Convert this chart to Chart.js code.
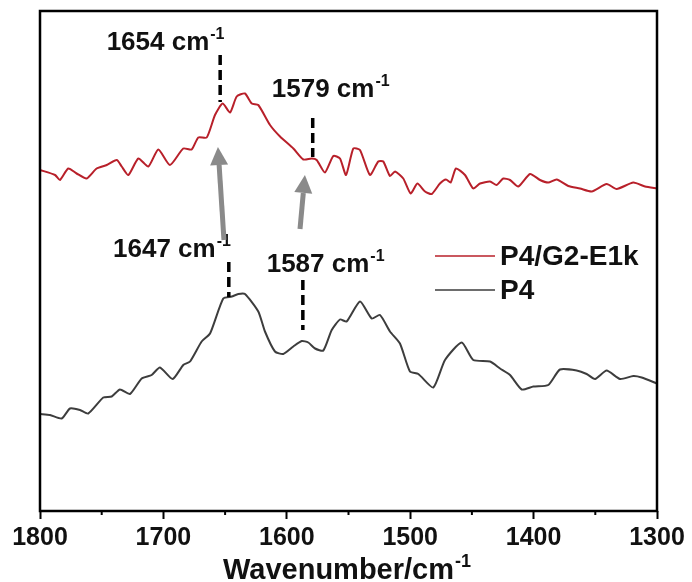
<!DOCTYPE html>
<html>
<head>
<meta charset="utf-8">
<title>FTIR amide region</title>
<script src="https://cdn.jsdelivr.net/npm/chart.js@4.4.1/dist/chart.umd.min.js"></script>
<style>
  html, body { margin: 0; padding: 0; background: #fff; }
  #wrap { width: 692px; height: 582px; }
</style>
</head>
<body>
<div id="wrap"><canvas id="c" width="692" height="582"></canvas></div>
<script>
// Wavenumber (cm-1) and offset absorbance (a.u.) for each spectrum
const wnG2 = [1800, 1787.8, 1783.8, 1777.1, 1770.3, 1762.2, 1754.1, 1745.9, 1737.8, 1733.8, 1728.4, 1720.3, 1712.2, 1704.1, 1694.7, 1683.9, 1677.1, 1671.7, 1664.9, 1658.2, 1652.0, 1646.0, 1640.6, 1633.9, 1628.4, 1623.1, 1613.6, 1605.5, 1594.7, 1586.6, 1579.8, 1575.8, 1569.1, 1562.3, 1556.9, 1552.0, 1546.1, 1540.7, 1532.6, 1525.9, 1521.8, 1516.4, 1512.3, 1505.6, 1499.6, 1494.2, 1488.0, 1482.6, 1475.9, 1471.0, 1467.2, 1462.9, 1455.6, 1448.9, 1443.4, 1435.3, 1429.9, 1424.6, 1419.1, 1412.4, 1402.9, 1394.8, 1388.1, 1381.3, 1371.9, 1362.4, 1352.9, 1340.8, 1332.7, 1319.2, 1309.7, 1300];
const absG2 = [68.2, 67.2, 66.2, 68.5, 67.5, 66.5, 68.5, 69.2, 70.2, 68.9, 67.2, 70.5, 68.9, 72.3, 69.2, 72.5, 72.3, 74.7, 74.7, 79.2, 81.5, 79.7, 82.9, 83.5, 81.5, 81.2, 77.2, 74.9, 72.5, 70.3, 70.5, 70.2, 67.7, 71.0, 70.5, 67.2, 72.5, 72.2, 67.2, 69.9, 69.9, 67.0, 67.9, 66.5, 63.5, 65.5, 63.9, 63.4, 65.5, 66.3, 65.7, 68.5, 67.2, 64.5, 65.5, 65.9, 65.2, 66.5, 66.2, 64.9, 67.4, 66.2, 65.7, 66.3, 65.0, 64.5, 63.9, 65.4, 64.4, 65.7, 64.9, 64.5];

const wnP4 = [1800, 1791.9, 1782.4, 1775.7, 1767.6, 1760.9, 1748.7, 1741.9, 1735.2, 1727.1, 1717.6, 1709.5, 1702.8, 1692.5, 1683.9, 1678.4, 1669.0, 1662.2, 1651.5, 1644.6, 1639.3, 1633.9, 1623.1, 1617.7, 1609.6, 1602.8, 1594.7, 1587.9, 1582.6, 1577.1, 1570.4, 1563.6, 1556.9, 1551.5, 1540.7, 1531.2, 1524.5, 1516.4, 1508.3, 1500.2, 1493.4, 1481.3, 1471.8, 1458.3, 1448.9, 1435.3, 1427.2, 1419.1, 1409.6, 1400.2, 1388.1, 1378.6, 1365.1, 1357.0, 1350.2, 1340.8, 1330.0, 1319.2, 1312.4, 1300];
const absP4 = [19.4, 19.2, 18.5, 20.5, 20.2, 19.5, 22.7, 22.9, 24.3, 23.4, 26.5, 27.2, 28.7, 26.4, 29.2, 29.9, 33.9, 35.5, 42.5, 42.9, 43.4, 43.4, 39.9, 35.9, 31.9, 31.4, 32.9, 34.0, 33.7, 32.5, 32.1, 36.2, 38.3, 37.9, 41.9, 38.5, 39.2, 35.9, 33.5, 27.9, 27.4, 24.7, 30.2, 33.7, 30.2, 29.9, 28.5, 27.2, 24.3, 24.9, 25.2, 28.3, 28.1, 27.4, 26.4, 28.1, 26.4, 27.0, 26.7, 25.5];

const seriesNames = ['P4/G2-E1k', 'P4'];
const xTicks = [1800, 1700, 1600, 1500, 1400, 1300];
const xMinorTicks = [1750, 1650, 1550, 1450, 1350];

// Peak markers: position, dashed segment (from/to) and label anchor (left edge, baseline)
const peakWn     = [1654, 1579, 1647, 1587];
const peakFrom   = [91.2, 78.6, 49.8, 46.2];
const peakTo     = [81.8, 70.8, 42.8, 36.2];
const peakTextWn = [1746, 1612.2, 1740.8, 1616.3];
const peakTextY  = [92.2, 82.8, 50.8, 47.8];

// Shift arrows (tail -> head)
const arrowTailWn = [1650.9, 1589.3];
const arrowTailY  = [54.2, 56.4];
const arrowHeadWn = [1655.8, 1585.3];
const arrowHeadY  = [72.8, 67.2];

const FONT = '"Liberation Sans", Arial, Helvetica, sans-serif';
const COLORS = ['#b8202a', '#3d3d3d'];

function toPoints(xs, ys) { return xs.map((x, i) => ({ x: x, y: ys[i] })); }

function drawSup(ctx, x, y, main, sup, size, supSize, weight) {
  ctx.font = weight + ' ' + size + 'px ' + FONT;
  ctx.fillText(main, x, y);
  const w = ctx.measureText(main).width;
  ctx.font = weight + ' ' + supSize + 'px ' + FONT;
  ctx.fillText(sup, x + w + 1, y - size * 0.42);
}

const decorations = {
  id: 'decorations',
  afterDatasetsDraw(chart) {
    const ctx = chart.ctx;
    const xs = chart.scales.x, ys = chart.scales.y;
    const a = chart.chartArea;
    ctx.save();

    // dashed peak markers
    ctx.strokeStyle = '#000';
    ctx.lineWidth = 3.5;
    ctx.setLineDash([10, 5]);
    peakWn.forEach((wn, i) => {
      const px = xs.getPixelForValue(wn);
      ctx.beginPath();
      ctx.moveTo(px, ys.getPixelForValue(peakFrom[i]));
      ctx.lineTo(px, ys.getPixelForValue(peakTo[i]));
      ctx.stroke();
    });
    ctx.setLineDash([]);

    // peak labels
    ctx.fillStyle = '#111';
    ctx.textBaseline = 'alphabetic';
    ctx.textAlign = 'left';
    peakWn.forEach((wn, i) => {
      drawSup(ctx, xs.getPixelForValue(peakTextWn[i]), ys.getPixelForValue(peakTextY[i]),
        wn + ' cm', '-1', 26, 16, 'bold');
    });

    // gray arrows
    ctx.strokeStyle = '#8a8a8a';
    ctx.fillStyle = '#8a8a8a';
    arrowTailWn.forEach((t, i) => {
      const x0 = xs.getPixelForValue(t), y0 = ys.getPixelForValue(arrowTailY[i]);
      const x1 = xs.getPixelForValue(arrowHeadWn[i]), y1 = ys.getPixelForValue(arrowHeadY[i]);
      const ang = Math.atan2(y1 - y0, x1 - x0);
      const hl = 18, hw = 9;
      const bx = x1 - hl * Math.cos(ang), by = y1 - hl * Math.sin(ang);
      ctx.lineWidth = 5;
      ctx.beginPath();
      ctx.moveTo(x0, y0);
      ctx.lineTo(bx, by);
      ctx.stroke();
      ctx.beginPath();
      ctx.moveTo(x1, y1);
      ctx.lineTo(bx + hw * Math.sin(ang), by - hw * Math.cos(ang));
      ctx.lineTo(bx - hw * Math.sin(ang), by + hw * Math.cos(ang));
      ctx.closePath();
      ctx.fill();
    });

    // legend
    const legY = [256, 290];
    seriesNames.forEach((name, i) => {
      ctx.strokeStyle = COLORS[i];
      ctx.lineWidth = 1.6;
      ctx.beginPath();
      ctx.moveTo(435, legY[i]);
      ctx.lineTo(495, legY[i]);
      ctx.stroke();
      ctx.fillStyle = '#111';
      ctx.font = 'bold 28px ' + FONT;
      ctx.textBaseline = 'middle';
      ctx.fillText(name, 500, legY[i] + 1);
    });

    // frame
    ctx.strokeStyle = '#000';
    ctx.lineWidth = 2.5;
    ctx.strokeRect(a.left, a.top, a.right - a.left, a.bottom - a.top);

    // minor ticks
    ctx.lineWidth = 2;
    xMinorTicks.forEach(v => {
      const px = xs.getPixelForValue(v);
      ctx.beginPath();
      ctx.moveTo(px, a.bottom);
      ctx.lineTo(px, a.bottom + 4);
      ctx.stroke();
    });

    // axis title
    ctx.fillStyle = '#111';
    ctx.textBaseline = 'alphabetic';
    drawSup(ctx, 223, 579, 'Wavenumber/cm', '-1', 29, 18, 'bold');
    ctx.restore();
  }
};

new Chart(document.getElementById('c'), {
  type: 'line',
  data: {
    datasets: [
      { label: seriesNames[0], data: toPoints(wnG2, absG2), borderColor: COLORS[0], borderWidth: 2, pointRadius: 0, tension: 0.2, fill: false },
      { label: seriesNames[1], data: toPoints(wnP4, absP4), borderColor: COLORS[1], borderWidth: 2, pointRadius: 0, tension: 0.2, fill: false }
    ]
  },
  options: {
    responsive: false,
    animation: false,
    layout: { padding: { left: 40, right: 35, top: 11, bottom: 25 } },
    plugins: { legend: { display: false }, tooltip: { enabled: false } },
    scales: {
      x: {
        type: 'linear',
        reverse: true,
        min: 1300,
        max: 1800,
        afterBuildTicks: (scale) => { scale.ticks = xTicks.map(v => ({ value: v })); },
        ticks: { color: '#111', padding: 4, font: { family: FONT, size: 25, weight: 'bold' }, maxRotation: 0,
                 callback: (v) => String(v) },
        grid: { display: true, drawOnChartArea: false, drawTicks: true, tickLength: 8, tickWidth: 2, tickColor: '#000' },
        border: { display: false }
      },
      y: { display: false, min: 0, max: 100 }
    }
  },
  plugins: [decorations]
});
</script>
</body>
</html>
